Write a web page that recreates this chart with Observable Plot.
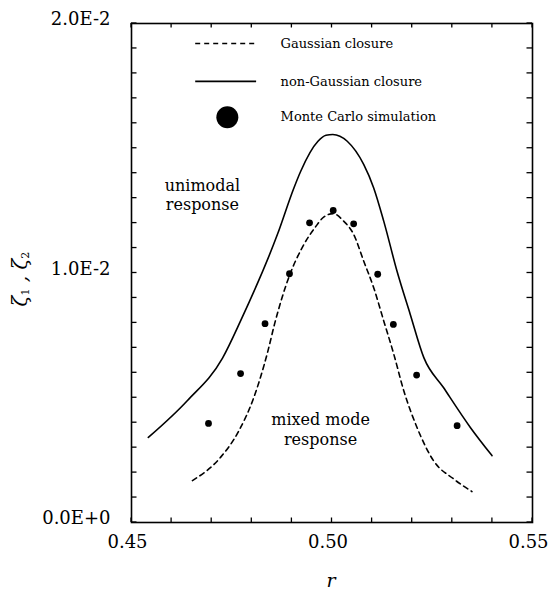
<!DOCTYPE html>
<html>
<head>
<meta charset="utf-8">
<script src="https://cdn.jsdelivr.net/npm/d3@7"></script>
<script src="https://cdn.jsdelivr.net/npm/@observablehq/plot@0.6"></script>
<style>
  body { margin: 0; background: #fff; }
  #chart svg { display: block; }
</style>
</head>
<body>
<div id="chart"></div>
<script>
// Non-Gaussian closure (solid line)
const nonGaussR = [0.4542, 0.4639, 0.4727, 0.4772, 0.4864, 0.4905, 0.4922, 0.4965, 0.4985, 0.5002, 0.5038, 0.5079, 0.5104, 0.5129, 0.5162, 0.5195, 0.5229, 0.5278, 0.5345, 0.5399];
const nonGaussY = [0.00341, 0.00488, 0.00659, 0.00808, 0.01155, 0.01341, 0.01408, 0.01528, 0.01552, 0.01555, 0.01528, 0.01435, 0.01341, 0.01208, 0.01008, 0.00835, 0.00661, 0.00541, 0.00381, 0.00268];

// Gaussian closure (dashed line)
const gaussR = [0.4652, 0.4722, 0.4768, 0.4805, 0.4839, 0.4857, 0.4894, 0.4925, 0.4959, 0.4980, 0.5003, 0.5029, 0.5054, 0.5079, 0.5104, 0.5129, 0.5154, 0.5179, 0.5212, 0.5253, 0.5303, 0.5349];
const gaussY = [0.00168, 0.00261, 0.00368, 0.00501, 0.00680, 0.00797, 0.00990, 0.01100, 0.01185, 0.01225, 0.01238, 0.01208, 0.01155, 0.01048, 0.00941, 0.00808, 0.00675, 0.00528, 0.00381, 0.00248, 0.00175, 0.00124];

// Monte Carlo simulation (dots)
const mcR = [0.4692, 0.4772, 0.4833, 0.4894, 0.4944, 0.5003, 0.5054, 0.5114, 0.5153, 0.5211, 0.5312];
const mcY = [0.00397, 0.00597, 0.00797, 0.00997, 0.01201, 0.01251, 0.01197, 0.00995, 0.00794, 0.00591, 0.00388];

// Axis ticks and labels
const xTickValues = [0.45, 0.50, 0.55];
const xTickLabels = ["0.45", "0.50", "0.55"];
const yTickValues = [0, 0.01, 0.02];
const yTickLabels = ["0.0E+0", "1.0E-2", "2.0E-2"];
const xMinorTicks = [0.45, 0.46, 0.47, 0.48, 0.49, 0.50, 0.51, 0.52, 0.53, 0.54, 0.55];
const yMinorTicks = [0, 0.001, 0.002, 0.003, 0.004, 0.005, 0.006, 0.007, 0.008, 0.009, 0.010,
                     0.011, 0.012, 0.013, 0.014, 0.015, 0.016, 0.017, 0.018, 0.019, 0.020];

const legendLabels = ["Gaussian closure", "non-Gaussian closure", "Monte Carlo simulation"];
const regionLabels = ["unimodal\nresponse", "mixed mode\nresponse"];
const xLabel = "r";

const nonGauss = nonGaussR.map((r, i) => ({r, y: nonGaussY[i]}));
const gauss = gaussR.map((r, i) => ({r, y: gaussY[i]}));
const mc = mcR.map((r, i) => ({r, y: mcY[i]}));

const serif = "'DejaVu Serif', serif";
const W = 548, H = 592, mL = 131, mR = 16, mT = 23, mB = 70;
const xDom = [0.45, 0.55], yDom = [0, 0.02];

const chart = Plot.plot({
  width: W,
  height: H,
  marginLeft: mL,
  marginRight: mR,
  marginTop: mT,
  marginBottom: mB,
  style: {fontFamily: serif, background: "#fff", color: "#000"},
  x: {domain: xDom, axis: null},
  y: {domain: yDom, axis: null},
  marks: [
    Plot.frame({fill: "none", stroke: "#000", strokeWidth: 1.6}),
    // tick labels
    Plot.axisX({anchor: "bottom", ticks: xTickValues, tickSize: 0, tickPadding: 13, dx: -4,
      tickFormat: d => xTickLabels[xTickValues.indexOf(d)], fontSize: 18, label: null}),
    Plot.axisY({anchor: "left", ticks: yTickValues, tickSize: 0, tickPadding: 21, dy: -4,
      tickFormat: d => yTickLabels[yTickValues.indexOf(d)], fontSize: 18, label: null}),
    // x-axis title
    Plot.text([xLabel], {frameAnchor: "bottom", dx: -1, dy: 64, fontSize: 19, fontStyle: "italic", fill: "#000"}),
    // curves
    Plot.line(nonGauss, {x: "r", y: "y", stroke: "#000", strokeWidth: 1.6, curve: "monotone-x"}),
    Plot.line(gauss, {x: "r", y: "y", stroke: "#000", strokeWidth: 1.6, strokeDasharray: "5,4", curve: "monotone-x"}),
    Plot.dot(mc, {x: "r", y: "y", r: 3.4, fill: "#000", stroke: null}),
    // legend
    Plot.ruleY([0.0192], {x1: 0.46601, x2: 0.48120, stroke: "#000", strokeWidth: 1.4, strokeDasharray: "5,4"}),
    Plot.ruleY([0.01768], {x1: 0.46601, x2: 0.48120, stroke: "#000", strokeWidth: 1.6}),
    Plot.dot([0], {x: () => 0.4739, y: () => 0.01624, r: 11, fill: "#000", stroke: null}),
    Plot.text(legendLabels, {x: () => 0.48718, y: (d, i) => [0.0192, 0.01768, 0.01624][i], textAnchor: "start", fontSize: 13, fill: "#000"}),
    // region annotations
    Plot.text([regionLabels[0]], {x: () => 0.46768, y: () => 0.013148, fontSize: 16, lineHeight: 1.17, fill: "#000"}),
    Plot.text([regionLabels[1]], {x: () => 0.49714, y: () => 0.00376, fontSize: 16, lineHeight: 1.25, fill: "#000"})
  ]
});

// inward ticks on all four sides, placed through the plot's own scales
const sx = chart.scale("x"), sy = chart.scale("y");
const x0 = sx.apply(xDom[0]), x1 = sx.apply(xDom[1]);
const y0 = sy.apply(yDom[0]), y1 = sy.apply(yDom[1]);
const tg = d3.select(chart).append("g").attr("stroke", "#000").attr("stroke-width", 1.3);
for (const v of xMinorTicks) {
  const px = sx.apply(v);
  tg.append("line").attr("x1", px).attr("x2", px).attr("y1", y0).attr("y2", y0 - 4.5);
  tg.append("line").attr("x1", px).attr("x2", px).attr("y1", y1).attr("y2", y1 + 4.5);
}
for (const v of yMinorTicks) {
  const py = sy.apply(v);
  tg.append("line").attr("y1", py).attr("y2", py).attr("x1", x0).attr("x2", x0 + 5.5);
  tg.append("line").attr("y1", py).attr("y2", py).attr("x1", x1).attr("x2", x1 - 5.5);
}

// y-axis title: zeta_1 , zeta_2 (rotated), with real subscripts
const yTitle = d3.select(chart).append("text")
  .attr("transform", `translate(21, 279) rotate(-90)`)
  .attr("text-anchor", "middle")
  .attr("dominant-baseline", "middle")
  .attr("font-family", serif)
  .attr("font-size", 20)
  .attr("font-style", "italic")
  .attr("fill", "#000");
yTitle.append("tspan").text("ζ");
yTitle.append("tspan").attr("font-size", 11).attr("font-style", "normal").attr("dy", 5).text("1");
yTitle.append("tspan").attr("dy", -5).text(" , ");
yTitle.append("tspan").text("ζ");
yTitle.append("tspan").attr("font-size", 11).attr("font-style", "normal").attr("dy", 5).text("2");

document.getElementById("chart").appendChild(chart);
</script>
</body>
</html>
